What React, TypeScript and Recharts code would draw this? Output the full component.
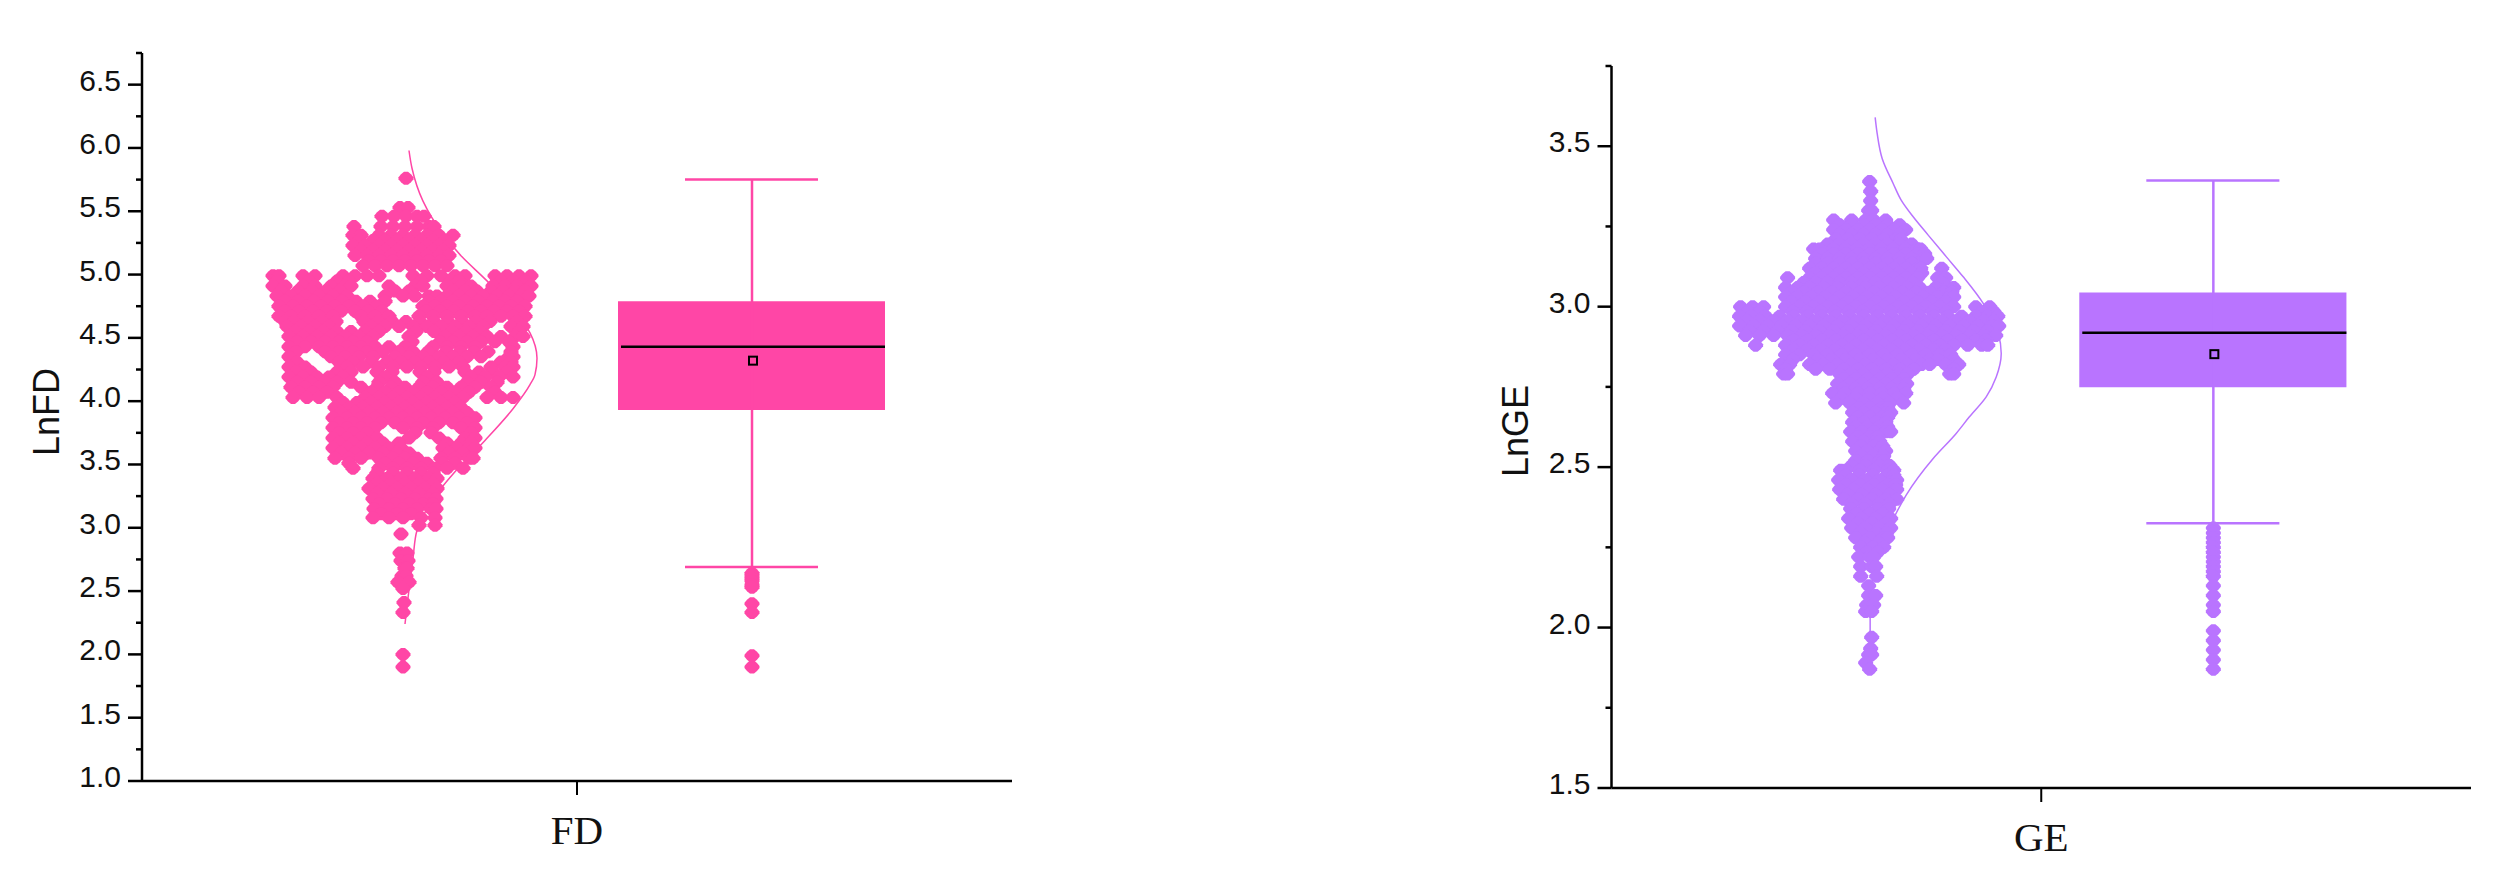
import { ScatterChart, Scatter, XAxis, YAxis, ReferenceArea, ReferenceLine } from 'recharts';

const PINK = '#FF46A6';
const PURPLE = '#B974FF';

// y ticks, every 0.25 for the minor ones
const fdTicks = [1, 1.25, 1.5, 1.75, 2, 2.25, 2.5, 2.75, 3, 3.25, 3.5, 3.75, 4, 4.25, 4.5, 4.75, 5, 5.25, 5.5, 5.75, 6, 6.25, 6.5, 6.75];
const geTicks = [1.5, 1.75, 2, 2.25, 2.5, 2.75, 3, 3.25, 3.5, 3.75];

// swarm rows: [value, horizontal spread of the points in that row]
const fdSwarm: [number, number[]][] = [
  [5.76, [3]],
  [5.53, [-3, 5]],
  [5.46, [-21, -9, 3, 14, 21]],
  [5.38, [-49, -22, -10, 2, 14, 26, 31]],
  [5.31, [-50, -42, -24, -12, 0, 12, 24, 36, 50]],
  [5.27, [-44, -30, -18, -6, 6, 18, 30, 42]],
  [5.23, [-50, -38, -24, -12, 0, 12, 24, 36, 46]],
  [5.19, [-42, -30, -18, -6, 6, 18, 30, 40]],
  [5.15, [-48, -36, -24, -12, 0, 12, 24, 36, 46]],
  [5.11, [-34, -22, -10, 2, 14, 26, 38]],
  [5.07, [-40, -28, -16, -4, 8, 20, 32, 44]],
  [4.99, [-130, -124, -100, -88, -60, -48, -36, -24, 10, 24, 38, 52, 62, 92, 104, 116, 128]],
  [4.95, [-126, -94, -66, -54, 18, 48, 56, 98, 110, 122]],
  [4.91, [-130, -118, -100, -88, -72, -58, -52, -14, 12, 20, 44, 58, 68, 90, 102, 114, 128]],
  [4.87, [-122, -105, -91, -77, -63, -8, 6, 50, 62, 74, 88, 100, 112, 122]],
  [4.83, [-126, -112, -98, -84, -70, -56, -18, 0, 12, 26, 34, 44, 56, 68, 80, 94, 106, 118, 126]],
  [4.79, [-118, -105, -89, -75, -61, -47, -33, -18, 26, 38, 50, 62, 75, 90, 102, 114]],
  [4.75, [-124, -110, -96, -82, -68, -54, -40, -26, 20, 32, 44, 56, 70, 84, 96, 108, 122]],
  [4.71, [-118, -104, -90, -76, -62, -48, -35, -21, 23, 37, 51, 65, 78, 91, 104, 116]],
  [4.67, [-124, -112, -98, -84, -70, -42, -28, -14, 16, 30, 44, 58, 72, 84, 98, 110, 122]],
  [4.63, [-118, -109, -95, -81, -67, -39, -25, -11, 3, 17, 31, 45, 59, 73, 87, 114]],
  [4.59, [-116, -102, -88, -74, -32, -18, -4, 10, 24, 38, 52, 66, 80, 108, 120]],
  [4.55, [-108, -94, -80, -66, -52, -38, -24, 13, 31, 49, 63, 77, 116]],
  [4.51, [-114, -100, -86, -72, -58, -44, -30, 6, 42, 56, 70, 84, 98, 112, 120]],
  [4.47, [-106, -92, -78, -64, -50, -36, 9, 37, 50, 64, 78, 92, 106]],
  [4.43, [-114, -98, -84, -70, -56, -42, -28, -14, 2, 30, 44, 58, 72, 110]],
  [4.39, [-107, -78, -64, -50, -36, -20, -4, 10, 25, 43, 57, 71, 85, 108]],
  [4.35, [-114, -72, -58, -44, -30, -8, 6, 20, 36, 50, 64, 78, 106, 110]],
  [4.31, [-106, -64, -50, -32, -16, -2, 12, 26, 41, 56, 98, 108]],
  [4.27, [-114, -98, -56, -40, -24, -10, 4, 18, 32, 46, 60, 88, 102, 110]],
  [4.23, [-107, -92, -66, -52, -26, -11, 17, 31, 62, 76, 90, 104]],
  [4.19, [-114, -100, -86, -74, -60, -18, 24, 68, 82, 96, 110]],
  [4.15, [-106, -92, -78, -66, -52, -24, -8, 20, 34, 64, 78, 94]],
  [4.11, [-112, -98, -84, -70, -42, -26, -12, 2, 16, 30, 44, 58, 72, 88]],
  [4.07, [-104, -90, -76, -32, -18, -4, 10, 24, 38, 52, 66, 92]],
  [4.03, [-110, -96, -84, -66, -38, -24, -10, 4, 18, 32, 46, 60, 84, 98, 110]],
  [3.99, [-60, -46, -32, -18, -4, 10, 24, 38, 52]],
  [3.95, [-68, -54, -40, -26, -12, 2, 16, 30, 44, 58]],
  [3.91, [-62, -48, -34, -20, -6, 8, 22, 36, 50, 64]],
  [3.87, [-70, -56, -42, -28, -14, 0, 14, 28, 42, 56, 72]],
  [3.83, [-64, -50, -36, -22, -8, 6, 20, 36, 50, 64]],
  [3.79, [-70, -56, -42, -28, 0, 14, 30, 58, 72]],
  [3.75, [-64, -50, -36, 12, 28, 68]],
  [3.71, [-70, -56, -42, -26, 6, 36, 62, 72]],
  [3.67, [-64, -50, -36, -20, -4, 44, 58, 68]],
  [3.63, [-70, -56, -42, -28, -14, -2, 40, 54, 66, 72]],
  [3.59, [-62, -48, -34, -20, -6, 6, 46, 60]],
  [3.55, [-68, -54, -42, -24, -10, 2, 14, 38, 52, 66, 70]],
  [3.51, [-54, -18, -4, 10, 24, 40, 52]],
  [3.47, [-50, -24, -10, 4, 18, 32, 44, 60]],
  [3.43, [-26, -10, 4, 18, 30]],
  [3.39, [-30, -16, -2, 12, 26, 34]],
  [3.35, [-26, -12, 2, 16, 30]],
  [3.31, [-34, -20, -6, 8, 22, 34]],
  [3.27, [-26, -12, 2, 16, 30]],
  [3.23, [-30, -16, -2, 12, 26, 33]],
  [3.19, [-24, -8, 6, 20, 30]],
  [3.15, [-29, -14, 0, 14, 28, 33]],
  [3.11, [-22, -6, 8]],
  [3.08, [-30, -14, 0, 18, 32]],
  [3.02, [16, 32]],
  [2.95, [-2]],
  [2.8, [-3, 4]],
  [2.74, [-2, 5]],
  [2.68, [2, 4]],
  [2.62, [-1, 3]],
  [2.57, [-5, 6]],
  [2.52, [0]],
  [2.41, [1]],
  [2.33, [0]],
  [2.0, [0]],
  [1.9, [0]],
];

const geSwarm: [number, number[]][] = [
  [3.39, [0]],
  [3.36, [1]],
  [3.33, [1]],
  [3.3, [-1, 2]],
  [3.27, [-36, -18, -4, 4, 16]],
  [3.255, [-30, -18, -6, 6, 18, 30]],
  [3.24, [-36, -24, -12, 0, 12, 24, 36]],
  [3.225, [-30, -18, -6, 6, 18, 30]],
  [3.21, [-34, -22, -10, 2, 14, 26, 31]],
  [3.195, [-42, -30, -18, -6, 6, 18, 30, 42]],
  [3.18, [-56, -50, -36, -24, -12, 0, 12, 24, 36, 48, 51]],
  [3.165, [-48, -36, -24, -12, 0, 12, 24, 36, 48, 55]],
  [3.15, [-54, -42, -30, -18, -6, 6, 18, 30, 42, 54, 57]],
  [3.135, [-54, -42, -30, -18, -6, 6, 18, 30, 42]],
  [3.12, [-60, -48, -36, -24, -12, 0, 12, 24, 36, 48, 51, 72]],
  [3.105, [-54, -42, -30, -18, -6, 6, 18, 30, 42, 52]],
  [3.09, [-82, -60, -48, -36, -24, -12, 0, 12, 24, 36, 48, 68, 76]],
  [3.075, [-66, -54, -42, -30, -18, -6, 6, 18, 30, 43, 72]],
  [3.06, [-84, -72, -60, -46, -32, -18, -4, 10, 24, 38, 50, 66, 78, 84]],
  [3.045, [-78, -66, -52, -38, -24, -10, 4, 18, 32, 46, 60, 74, 82]],
  [3.03, [-84, -72, -58, -44, -30, -16, -2, 12, 26, 40, 54, 68, 80, 84]],
  [3.015, [-78, -64, -50, -36, -22, -8, 6, 20, 34, 48, 62, 76]],
  [3.0, [-129, -117, -106, -84, -70, -56, -42, -28, -14, 0, 14, 28, 42, 56, 70, 84, 106, 120]],
  [2.985, [-122, -110, -77, -63, -49, -35, -21, -7, 7, 21, 35, 49, 63, 77, 112, 124]],
  [2.97, [-130, -118, -104, -90, -76, -62, -48, -34, -20, -6, 8, 22, 36, 50, 64, 78, 92, 106, 118, 128]],
  [2.955, [-123, -110, -96, -82, -68, -54, -40, -26, -12, 2, 16, 30, 44, 58, 72, 86, 100, 114, 124]],
  [2.94, [-130, -116, -102, -88, -74, -60, -46, -32, -18, -4, 10, 24, 38, 52, 66, 80, 94, 108, 122, 129]],
  [2.925, [-120, -106, -92, -78, -64, -50, -36, -22, -8, 6, 20, 34, 48, 62, 76, 90, 104, 118]],
  [2.91, [-124, -110, -96, -82, -68, -54, -40, -26, -12, 2, 16, 30, 44, 58, 72, 86, 100, 114, 126]],
  [2.895, [-76, -62, -48, -34, -20, -6, 8, 22, 36, 50, 64, 78, 92, 106, 116]],
  [2.88, [-114, -84, -70, -56, -42, -28, -14, 0, 14, 28, 42, 56, 70, 84, 98, 112, 118]],
  [2.865, [-76, -62, -48, -34, -20, -6, 8, 22, 36, 50, 64, 76]],
  [2.85, [-84, -70, -56, -42, -28, -14, 0, 14, 28, 42, 56, 70, 81]],
  [2.835, [-77, -52, -38, -24, -10, 4, 18, 32, 46, 60, 68, 84]],
  [2.82, [-89, -80, -60, -46, -32, -18, -4, 10, 24, 38, 52, 60, 76, 89]],
  [2.805, [-84, -54, -40, -26, -12, 2, 16, 30, 44, 84]],
  [2.79, [-86, -82, -30, -18, -6, 6, 18, 30, 38, 80, 84]],
  [2.775, [-26, -14, -2, 10, 22, 34]],
  [2.76, [-32, -20, -8, 4, 16, 28, 37]],
  [2.745, [-26, -14, -2, 10, 22, 34]],
  [2.73, [-37, -25, -12, 0, 12, 24, 36]],
  [2.715, [-28, -14, 0, 14, 28]],
  [2.7, [-34, -20, -6, 8, 20, 34]],
  [2.685, [-11, 0, 12, 18]],
  [2.67, [-17, -6, 6, 17, 21]],
  [2.655, [-12, 0, 12, 18]],
  [2.64, [-17, -6, 6, 16]],
  [2.625, [-13, -2, 10, 18]],
  [2.61, [-19, -8, 4, 16, 21]],
  [2.595, [-12, 0, 8]],
  [2.58, [-17, -6, 6, 10]],
  [2.565, [-9, 4, 13]],
  [2.55, [-14, -2, 10, 16]],
  [2.535, [-8, 4, 14]],
  [2.52, [-14, -2, 10, 14]],
  [2.505, [-18, -4, 10, 20]],
  [2.49, [-29, -24, -10, 4, 18, 24]],
  [2.475, [-24, -11, 3, 17, 24]],
  [2.46, [-31, -18, -4, 10, 24, 27]],
  [2.445, [-24, -10, 4, 18, 26]],
  [2.43, [-30, -16, -2, 12, 26, 27]],
  [2.415, [-22, -8, 6, 20]],
  [2.4, [-26, -12, 2, 16, 27]],
  [2.385, [-18, -4, 10, 20]],
  [2.37, [-19, -6, 8, 19]],
  [2.355, [-13, 0, 13]],
  [2.34, [-21, -8, 6, 21]],
  [2.325, [-12, 2, 16]],
  [2.31, [-18, -4, 10, 21]],
  [2.295, [-9, 7, 17]],
  [2.28, [-14, 0, 14, 18]],
  [2.265, [-5, 9]],
  [2.25, [-9, 3, 14]],
  [2.235, [-3, 8]],
  [2.22, [-11, 0, 4]],
  [2.19, [-9, 2, 6]],
  [2.16, [-9, 7]],
  [2.13, [-1]],
  [2.1, [-1, 6]],
  [2.07, [-3, 4]],
  [2.05, [-4, 2]],
  [1.97, [2]],
  [1.935, [1]],
  [1.915, [-1, 2]],
  [1.89, [-4]],
  [1.87, [0]],
];

// distribution curves: [horizontal position, value]
const fdCurve = [
  [-168, 5.98], [-165, 5.84], [-154, 5.58], [-135, 5.33], [-115, 5.14], [-90, 4.95], [-67, 4.75], [-47, 4.54],
  [-40, 4.34], [-42, 4.21], [-47, 4.13], [-64, 3.94], [-92, 3.69], [-120, 3.46], [-135, 3.32], [-160, 2.98],
  [-164, 2.76], [-172, 2.24],
];
const geCurve = [
  [-166, 3.59], [-164, 3.54], [-159, 3.462], [-148, 3.384], [-140, 3.332], [-128, 3.28], [-113, 3.223], [-95, 3.156],
  [-78, 3.093], [-58, 3.01], [-43, 2.917], [-40, 2.854], [-45, 2.781], [-55, 2.719], [-72, 2.656], [-85, 2.605],
  [-108, 2.527], [-135, 2.413], [-146, 2.35], [-160, 2.24], [-166, 2.19], [-171, 2.044], [-171, 1.98],
];

// box stats
const fdBox = { low: 2.69, q1: 3.93, median: 4.43, mean: 4.32, q3: 4.79, high: 5.75 };
const geBox = { low: 2.325, q1: 2.749, median: 2.919, mean: 2.852, q3: 3.044, high: 3.393 };
const fdOutliers = [2.64, 2.62, 2.6, 2.58, 2.55, 2.53, 2.4, 2.33, 1.99, 1.9];
const geOutliers = [2.31, 2.295, 2.28, 2.265, 2.25, 2.235, 2.22, 2.205, 2.19, 2.175, 2.16, 2.13, 2.1, 2.07, 2.05, 1.99, 1.96, 1.93, 1.9, 1.87];

const Dot = ({ cx, cy, fill }: any) => (
  <path
    fill={fill}
    d={`M${cx - 2} ${cy - 6.5}H${cx + 2}L${cx + 5} ${cy - 4}L${cx + 7.5} ${cy - 1}V${cy + 1}L${cx + 5} ${cy + 4}L${cx + 2} ${cy + 6.5}H${cx - 2}L${cx - 5} ${cy + 4}L${cx - 7.5} ${cy + 1}V${cy - 1}L${cx - 5} ${cy - 4}Z`}
  />
);

const MeanMark = ({ cx, cy, fill }: any) => (
  <rect x={cx - 4} y={cy - 4} width={8} height={8} fill={fill} stroke="#000" strokeWidth={2} />
);

const YTick = ({ x, y, payload }: any) => {
  const major = Number.isInteger(payload.value * 2);
  return (
    <g>
      <line x1={x - (major ? 14 : 6)} x2={x} y1={y} y2={y} stroke="#000" strokeWidth={2.5} />
      {major && (
        <text x={x - 21} y={y + 6} textAnchor="end" fontFamily="'Liberation Sans'" fontSize={30} fill="#111">
          {payload.value.toFixed(1)}
        </text>
      )}
    </g>
  );
};

const XTick = ({ x, y, name }: any) => (
  <g>
    <line x1={x} x2={x} y1={y - 14} y2={y} stroke="#000" strokeWidth={2} />
    <text x={x} y={y + 49} textAnchor="middle" fontFamily="'Liberation Serif'" fontSize={41} fill="#111">
      {name}
    </text>
  </g>
);

interface SwarmBoxProps {
  name: string;
  title: string;
  titleShift: number;
  color: string;
  swarm: [number, number[]][];
  curve: number[][];
  box: typeof fdBox;
  outliers: number[];
  yDomain: [number, number];
  yTicks: number[];
  halfX: number;
  swarmAt: number;
  boxAt: number;
  width: number;
  left: number;
  top: number;
  right: number;
  bottom: number;
  chartX: number;
}

const SwarmBox = ({ name, title, titleShift, color, swarm, curve, box, outliers, yDomain, yTicks, halfX, swarmAt, boxAt, width, left, top, right, bottom, chartX }: SwarmBoxProps) => {
  const points = swarm.flatMap(([y, xs]) => xs.map((dx) => ({ x: swarmAt + dx, y })));
  const curvePts = curve.map(([x, y]) => ({ x, y }));
  const outlierPts = outliers.map((y) => ({ x: boxAt, y }));
  const boxL = boxAt - 134;
  const boxR = boxAt + 133;
  return (
    <div style={{ position: 'absolute', left: chartX, top: 0 }}>
      <ScatterChart width={width} height={879} margin={{ left, top, right, bottom }}>
        <XAxis
          type="number"
          dataKey="x"
          domain={[-halfX, halfX]}
          ticks={[0]}
          height={60}
          tickSize={14}
          tickMargin={0}
          tickLine={false}
          tick={<XTick name={name} />}
          axisLine={{ stroke: '#000', strokeWidth: 2.5 }}
        />
        <YAxis
          type="number"
          dataKey="y"
          domain={yDomain}
          ticks={yTicks}
          interval={0}
          width={100}
          tickSize={0}
          tickMargin={0}
          tickLine={false}
          tick={<YTick />}
          axisLine={{ stroke: '#000', strokeWidth: 2.5 }}
          label={{
            value: title,
            angle: -90,
            position: 'insideLeft',
            offset: 4,
            dy: titleShift,
            style: { textAnchor: 'middle', fontFamily: "'Liberation Sans'", fontSize: 36, fill: '#111' },
          }}
        />
        <ReferenceLine segment={[{ x: boxAt, y: box.low }, { x: boxAt, y: box.high }]} stroke={color} strokeWidth={2.5} />
        <ReferenceLine segment={[{ x: boxAt - 67, y: box.high }, { x: boxAt + 66, y: box.high }]} stroke={color} strokeWidth={2.5} />
        <ReferenceLine segment={[{ x: boxAt - 67, y: box.low }, { x: boxAt + 66, y: box.low }]} stroke={color} strokeWidth={2.5} />
        <ReferenceArea x1={boxL} x2={boxR} y1={box.q1} y2={box.q3} fill={color} fillOpacity={1} stroke="none" />
        <ReferenceLine segment={[{ x: boxL + 3, y: box.median }, { x: boxR, y: box.median }]} stroke="#000" strokeWidth={2.5} />
        <Scatter data={curvePts} line={{ stroke: color, strokeWidth: 1.5 }} lineJointType="monotoneY" shape={() => <g />} isAnimationActive={false} />
        <Scatter data={points} fill={color} shape={<Dot />} isAnimationActive={false} />
        <Scatter data={outlierPts} fill={color} shape={<Dot />} isAnimationActive={false} />
        <Scatter data={[{ x: boxAt + 1, y: box.mean }]} fill={color} shape={<MeanMark />} isAnimationActive={false} />
      </ScatterChart>
    </div>
  );
};

export default function App() {
  return (
    <div style={{ position: 'absolute', left: 0, top: 0, width: 2503, height: 879, background: '#fff', overflow: 'hidden' }}>
      <SwarmBox
        name="FD"
        title="LnFD"
        titleShift={-5}
        color={PINK}
        swarm={fdSwarm}
        curve={fdCurve}
        box={fdBox}
        outliers={fdOutliers}
        yDomain={[1, 6.75]}
        yTicks={fdTicks}
        halfX={435}
        swarmAt={-174}
        boxAt={175}
        chartX={0}
        width={1040}
        left={42}
        top={53}
        right={28}
        bottom={38}
      />
      <SwarmBox
        name="GE"
        title="LnGE"
        titleShift={4}
        color={PURPLE}
        swarm={geSwarm}
        curve={geCurve}
        box={geBox}
        outliers={geOutliers}
        yDomain={[1.5, 3.75]}
        yTicks={geTicks}
        halfX={429.5}
        swarmAt={-171.5}
        boxAt={172}
        chartX={1480}
        width={1023}
        left={31.5}
        top={66}
        right={32}
        bottom={31}
      />
    </div>
  );
}
